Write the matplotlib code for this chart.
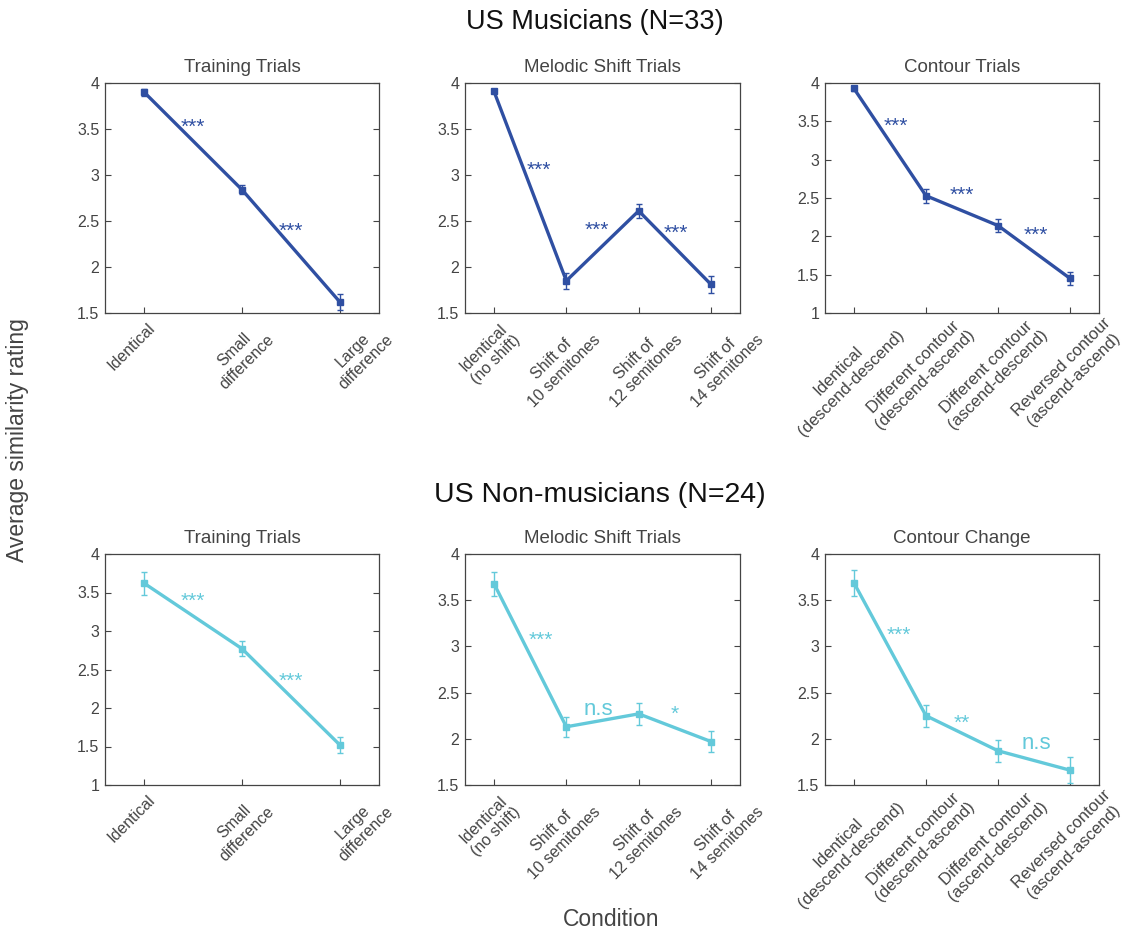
import matplotlib.pyplot as plt
import matplotlib.transforms as mtransforms
import numpy as np

plt.rcParams['font.family'] = ['Liberation Sans', 'DejaVu Sans']

# condition labels
train_labels = ['Identical', 'Small\ndifference', 'Large\ndifference']
shift_labels = ['Identical\n(no shift)', 'Shift of\n10 semitones', 'Shift of\n12 semitones', 'Shift of\n14 semitones']
contour_labels = ['Identical\n(descend-descend)', 'Different contour\n(descend-ascend)',
                  'Different contour\n(ascend-descend)', 'Reversed contour\n(ascend-ascend)']

# US musicians (means and standard errors)
mus_train = [3.90, 2.84, 1.62]
mus_train_err = [0.04, 0.05, 0.09]
mus_shift = [3.91, 1.85, 2.61, 1.81]
mus_shift_err = [0.02, 0.09, 0.08, 0.09]
mus_contour = [3.93, 2.53, 2.14, 1.45]
mus_contour_err = [0.03, 0.09, 0.09, 0.08]

# US non-musicians
non_train = [3.62, 2.77, 1.52]
non_train_err = [0.15, 0.10, 0.10]
non_shift = [3.68, 2.13, 2.27, 1.97]
non_shift_err = [0.13, 0.11, 0.12, 0.11]
non_contour = [3.69, 2.25, 1.87, 1.66]
non_contour_err = [0.14, 0.12, 0.12, 0.14]

# significance marks: (x, y, text)
mus_train_sig = [(1.5, 3.55, '***'), (2.5, 2.42, '***')]
mus_shift_sig = [(1.62, 3.08, '***'), (2.42, 2.43, '***'), (3.51, 2.40, '***')]
mus_contour_sig = [(1.58, 3.46, '***'), (2.5, 2.56, '***'), (3.53, 2.04, '***')]
non_train_sig = [(1.5, 3.42, '***'), (2.5, 2.37, '***')]
non_shift_sig = [(1.65, 3.10, '***'), (2.44, 2.32, 'n.s'), (3.5, 2.30, '*')]
non_contour_sig = [(1.62, 3.15, '***'), (2.5, 2.20, '**'), (3.53, 1.95, 'n.s')]

blue = '#2f4fa2'
cyan = '#63c9da'
W, H = 1127, 936

fig = plt.figure(figsize=(W / 100, H / 100), dpi=100)

# horizontal nudge (pixels) of the rotated condition labels, as in the original figure
nudge_train = [3, 12, 33]
nudge_shift = [6, 14, 24, 33]
nudge_contour = [30, 29, 30, 33]


def add_panel(px, py, title, labels, vals, errs, sigs, color, ylim, yticks, shifts,
              lab_fs=11.5, lab_dy=7):
    l, r = px
    t, b = py
    ax = fig.add_axes([l / W, 1 - b / H, (r - l) / W, (b - t) / H])
    x = np.arange(1, len(vals) + 1)
    ax.errorbar(x, vals, yerr=errs, color=color, lw=2.4, marker='s', ms=4.5,
                elinewidth=1, capsize=2.5, capthick=1)
    for sx, sy, s in sigs:
        if s == 'n.s':
            ax.text(sx, sy, s, color=color, ha='center', va='center', fontsize=16)
        else:
            ax.text(sx, sy - 0.03, s, color=color, ha='center', va='center', fontsize=15)
    ax.set_xlim(0.6, len(vals) + 0.4)
    ax.set_ylim(*ylim)
    ax.set_yticks(yticks)
    ax.set_yticklabels([('%g' % v) for v in yticks])
    ax.set_xticks(x)
    ax.set_xticklabels([])
    for xi, lab, dx in zip(x, labels, shifts):
        off = mtransforms.ScaledTranslation(dx / 100, -lab_dy / 100, fig.dpi_scale_trans)
        ax.text(xi, 0, lab, transform=ax.get_xaxis_transform() + off, rotation=45,
                ha='right', va='top', rotation_mode='anchor', multialignment='center',
                fontsize=lab_fs, color='#444444')
    ax.tick_params(direction='in', top=True, right=True, length=4, width=0.8,
                   colors='#444444', labelsize=11.5, pad=4)
    ax.tick_params(axis='x', top=False)
    for sp in ax.spines.values():
        sp.set_color('#444444')
        sp.set_linewidth(0.9)
    ax.set_title(title, fontsize=13.5, color='#444444', pad=8)
    return ax


top = (83, 313)
bot = (554, 785)
cols = [(105, 379), (465, 740), (825, 1099)]

add_panel(cols[0], top, 'Training Trials', train_labels, mus_train, mus_train_err,
          mus_train_sig, blue, (1.5, 4), [1.5, 2, 2.5, 3, 3.5, 4], nudge_train)
add_panel(cols[1], top, 'Melodic Shift Trials', shift_labels, mus_shift, mus_shift_err,
          mus_shift_sig, blue, (1.5, 4), [1.5, 2, 2.5, 3, 3.5, 4], nudge_shift)
add_panel(cols[2], top, 'Contour Trials', contour_labels, mus_contour, mus_contour_err,
          mus_contour_sig, blue, (1, 4), [1, 1.5, 2, 2.5, 3, 3.5, 4], nudge_contour, 12, 2)

add_panel(cols[0], bot, 'Training Trials', train_labels, non_train, non_train_err,
          non_train_sig, cyan, (1, 4), [1, 1.5, 2, 2.5, 3, 3.5, 4], nudge_train)
add_panel(cols[1], bot, 'Melodic Shift Trials', shift_labels, non_shift, non_shift_err,
          non_shift_sig, cyan, (1.5, 4), [1.5, 2, 2.5, 3, 3.5, 4], nudge_shift)
add_panel(cols[2], bot, 'Contour Change', contour_labels, non_contour, non_contour_err,
          non_contour_sig, cyan, (1.5, 4), [1.5, 2, 2.5, 3, 3.5, 4], nudge_contour, 12, 2)

fig.text(595 / W, 1 - 22 / H, 'US Musicians (N=33)', ha='center', va='center', fontsize=19.5, color='#111111')
fig.text(600 / W, 1 - 495 / H, 'US Non-musicians (N=24)', ha='center', va='center', fontsize=20.5, color='#111111')
fig.text(18 / W, 1 - 440 / H, 'Average similarity rating', rotation=90, ha='center', va='center',
         fontsize=16.5, color='#444444')
fig.text(611 / W, 1 - 920 / H, 'Condition', ha='center', va='center', fontsize=16.5, color='#444444')

fig.savefig('out.png', dpi=100)
